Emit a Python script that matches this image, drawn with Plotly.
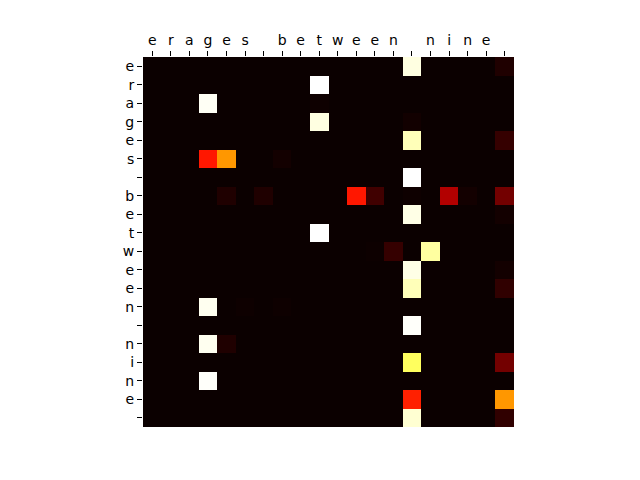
import plotly.graph_objects as go

# Character tokens (columns = keys, rows = queries)
x_labels = ["e", "r", "a", "g", "e", "s", " ", "b", "e", "t", "w", "e", "e", "n", " ", "n", "i", "n", "e", " "]
y_labels = ["e", "r", "a", "g", "e", "s", " ", "b", "e", "t", "w", "e", "e", "n", " ", "n", "i", "n", "e", " "]

# Attention weights, one row per query token
row_e0  = [0, 0, 0, 0, 0, 0, 0, 0, 0, 0, 0, 0, 0, 0, 0.97, 0, 0, 0, 0, 0.03]
row_r   = [0, 0, 0, 0, 0, 0, 0, 0, 0, 1.0, 0, 0, 0, 0, 0, 0, 0, 0, 0, 0]
row_a   = [0, 0, 0, 0.99, 0, 0, 0, 0, 0, 0.005, 0, 0, 0, 0, 0, 0, 0, 0, 0, 0]
row_g   = [0, 0, 0, 0, 0, 0, 0, 0, 0, 0.97, 0, 0, 0, 0, 0.01, 0, 0, 0, 0, 0]
row_e1  = [0, 0, 0, 0, 0, 0, 0, 0, 0, 0, 0, 0, 0, 0, 0.93, 0, 0, 0, 0, 0.063]
row_s   = [0, 0, 0, 0.40, 0.59, 0, 0, 0.012, 0, 0, 0, 0, 0, 0, 0, 0, 0, 0, 0, 0]
row_sp0 = [0, 0, 0, 0, 0, 0, 0, 0, 0, 0, 0, 0, 0, 0, 1.0, 0, 0, 0, 0, 0]
row_b   = [0, 0, 0, 0, 0.03, 0, 0.03, 0, 0, 0, 0, 0.40, 0.08, 0, 0.005, 0, 0.25, 0.012, 0, 0.155]
row_e2  = [0, 0, 0, 0, 0, 0, 0, 0, 0, 0, 0, 0, 0, 0, 0.975, 0, 0, 0, 0, 0.012]
row_t   = [0, 0, 0, 0, 0, 0, 0, 0, 0, 1.0, 0, 0, 0, 0, 0, 0, 0, 0, 0, 0]
row_w   = [0, 0, 0, 0, 0, 0, 0, 0, 0, 0, 0, 0, 0.003, 0.063, 0, 0.905, 0, 0, 0, 0]
row_e3  = [0, 0, 0, 0, 0, 0, 0, 0, 0, 0, 0, 0, 0, 0, 0.975, 0, 0, 0, 0, 0.012]
row_e4  = [0, 0, 0, 0, 0, 0, 0, 0, 0, 0, 0, 0, 0, 0, 0.93, 0, 0, 0, 0, 0.055]
row_n0  = [0, 0, 0, 0.985, 0, 0.004, 0, 0.004, 0, 0, 0, 0, 0, 0, 0, 0, 0, 0, 0, 0]
row_sp1 = [0, 0, 0, 0, 0, 0, 0, 0, 0, 0, 0, 0, 0, 0, 0.995, 0, 0, 0, 0, 0]
row_n1  = [0, 0, 0, 0.985, 0.03, 0, 0, 0, 0, 0, 0, 0, 0, 0, 0, 0, 0, 0, 0, 0]
row_i   = [0, 0, 0, 0, 0, 0, 0, 0, 0, 0, 0, 0, 0, 0, 0.84, 0, 0, 0, 0, 0.155]
row_n2  = [0, 0, 0, 0.995, 0, 0, 0, 0, 0, 0, 0, 0, 0, 0, 0, 0, 0, 0, 0, 0]
row_e5  = [0, 0, 0, 0, 0, 0, 0, 0, 0, 0, 0, 0, 0, 0, 0.413, 0, 0, 0, 0, 0.59]
row_sp2 = [0, 0, 0, 0, 0, 0, 0, 0, 0, 0, 0, 0, 0, 0, 0.955, 0, 0, 0, 0, 0.055]

z = [row_e0, row_r, row_a, row_g, row_e1, row_s, row_sp0, row_b, row_e2, row_t,
     row_w, row_e3, row_e4, row_n0, row_sp1, row_n1, row_i, row_n2, row_e5, row_sp2]

# matplotlib "hot" colormap
hot = [
    [0.0, "rgb(11,0,0)"],
    [0.365079, "rgb(255,0,0)"],
    [0.746032, "rgb(255,255,0)"],
    [1.0, "rgb(255,255,255)"],
]

xs = list(range(len(x_labels)))
ys = list(range(len(y_labels)))

fig = go.Figure(
    go.Heatmap(
        z=z, x=xs, y=ys, colorscale=hot, zmin=0, zmax=1,
        showscale=False, xgap=0, ygap=0,
    )
)

font = dict(family="DejaVu Sans", size=14, color="black")
fig.update_layout(
    width=640, height=480,
    margin=dict(l=143, r=126, t=57, b=53, pad=0),
    paper_bgcolor="white", plot_bgcolor="white",
    font=font,
)
fig.update_xaxes(
    side="top", tickmode="array", tickvals=xs, ticktext=x_labels,
    ticks="outside", ticklen=5, tickwidth=1, tickcolor="black",
    showgrid=False, zeroline=False, showline=False,
    range=[-0.5, len(xs) - 0.5], tickfont=font, tickangle=0,
)
fig.update_yaxes(
    tickmode="array", tickvals=ys, ticktext=y_labels,
    ticks="outside", ticklen=5, tickwidth=1, tickcolor="black",
    showgrid=False, zeroline=False, showline=False,
    range=[len(ys) - 0.5, -0.5], tickfont=font,
)

fig.write_html("out.html")
